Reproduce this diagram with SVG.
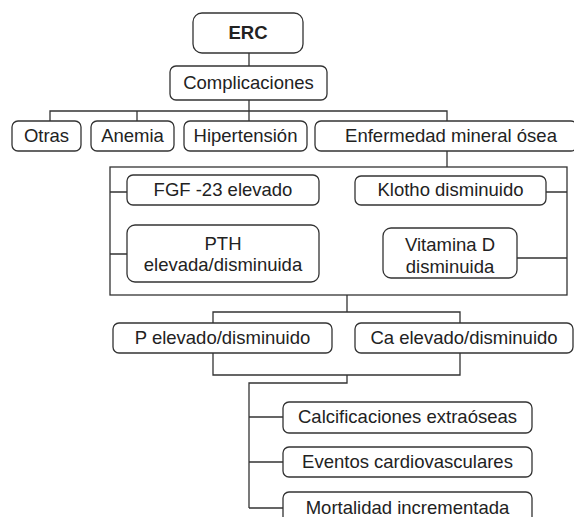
<svg xmlns="http://www.w3.org/2000/svg" width="574" height="517" viewBox="0 0 574 517">
<style>
.b{fill:#fff;stroke:#333;stroke-width:1.3}
.l{fill:none;stroke:#333;stroke-width:1.3}
text{font-family:"Liberation Sans",Arial,sans-serif;font-size:18.5px;fill:#222;text-anchor:middle}
</style>
<rect width="574" height="517" fill="#fff"/>
<g id="connectors" class="l">
<path d="M249 53V66M249 100V121M50 121V111H447V121M137 111V121"/>
<path d="M447 151V167"/>
<rect x="110" y="167" width="457" height="128"/>
<path d="M110 192H127M110 254H127M546 192H567M517 258H567"/>
<path d="M347 295V312M213 323V312H460V323M213 353V375H460V353M347 375V383H249V508M249 417H283M249 462H283M249 508H283"/>
</g>
<g id="erc"><rect class="b" x="193" y="13" width="110" height="40" rx="9"/><text x="248" y="39" font-weight="bold">ERC</text></g>
<g id="complicaciones"><rect class="b" x="170" y="66" width="157" height="34" rx="6"/><text x="248.5" y="89">Complicaciones</text></g>
<g id="otras"><rect class="b" x="12" y="121" width="69" height="30" rx="6"/><text x="46.5" y="142">Otras</text></g>
<g id="anemia"><rect class="b" x="91" y="121" width="83" height="30" rx="6"/><text x="132.5" y="142">Anemia</text></g>
<g id="hipertension"><rect class="b" x="184" y="121" width="123" height="30" rx="6"/><text x="245.5" y="142">Hipertensión</text></g>
<g id="enfermedad"><rect class="b" x="315" y="121" width="262" height="30" rx="6"/><text x="451" y="142">Enfermedad mineral ósea</text></g>
<g id="fgf"><rect class="b" x="127" y="175" width="192" height="30" rx="6"/><text x="223" y="196">FGF -23 elevado</text></g>
<g id="klotho"><rect class="b" x="355" y="176" width="191" height="29" rx="6"/><text x="450.5" y="196">Klotho disminuido</text></g>
<g id="pth"><rect class="b" x="127" y="225" width="192" height="57" rx="8"/><text x="223" y="250">PTH</text><text x="223" y="271">elevada/disminuida</text></g>
<g id="vitd"><rect class="b" x="383" y="228" width="134" height="50" rx="8"/><text x="450" y="251">Vitamina D</text><text x="450" y="273">disminuida</text></g>
<g id="p"><rect class="b" x="113" y="323" width="219" height="30" rx="6"/><text x="222.5" y="344">P elevado/disminuido</text></g>
<g id="ca"><rect class="b" x="355" y="323" width="218" height="30" rx="6"/><text x="464" y="344">Ca elevado/disminuido</text></g>
<g id="calc"><rect class="b" x="283" y="402" width="249" height="31" rx="6"/><text x="407.5" y="423">Calcificaciones extraóseas</text></g>
<g id="eventos"><rect class="b" x="283" y="447" width="249" height="30" rx="6"/><text x="407.5" y="468">Eventos cardiovasculares</text></g>
<g id="mortalidad"><rect class="b" x="283" y="492" width="249" height="32" rx="6"/><text x="407.5" y="514">Mortalidad incrementada</text></g>
</svg>
